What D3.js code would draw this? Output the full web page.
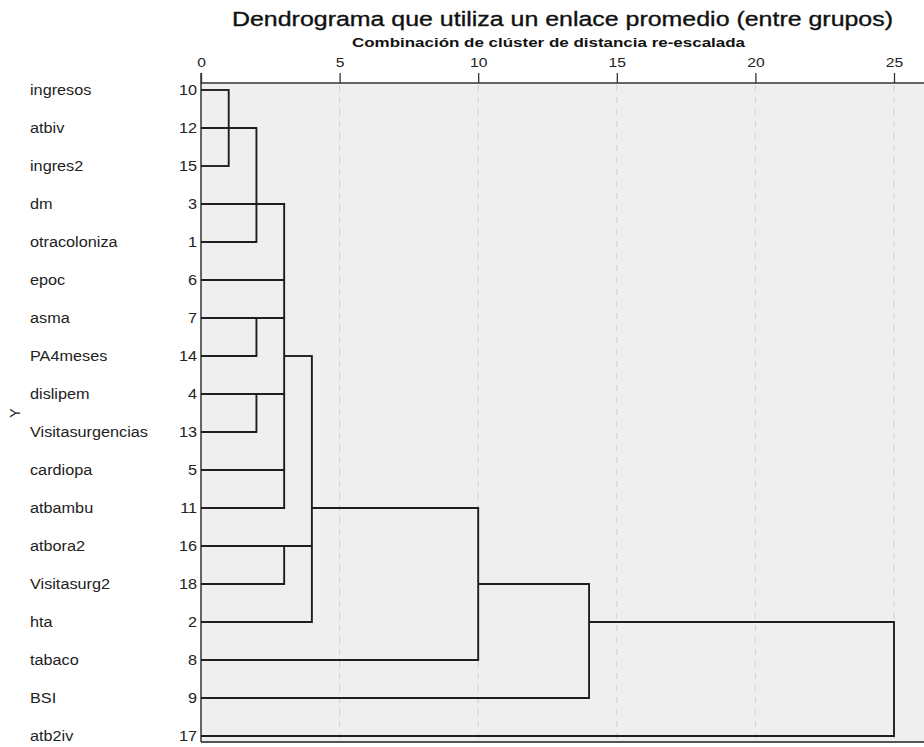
<!DOCTYPE html>
<html><head><meta charset="utf-8">
<script src="https://cdn.jsdelivr.net/npm/d3@7"></script>
<style>body{margin:0;background:#fff;} text{font-family:"Liberation Sans",Arial,sans-serif;}</style>
</head><body>
<svg id="c" width="924" height="747"></svg>
<script>
const title = "Dendrograma que utiliza un enlace promedio (entre grupos)";
const xTitle = "Combinación de clúster de distancia re-escalada";
const yTitle = "Y";
const labels = ["ingresos","atbiv","ingres2","dm","otracoloniza","epoc","asma","PA4meses","dislipem","Visitasurgencias","cardiopa","atbambu","atbora2","Visitasurg2","hta","tabaco","BSI","atb2iv"];
const caseIds = [10,12,15,3,1,6,7,14,4,13,5,11,16,18,2,8,9,17];
const xTicks = [0,5,10,15,20,25];
// horizontal segments as drawn: [rowIndex, fromDistance, toDistance]
const hSegments = [
  [0,0,1],[1,0,2],[2,0,1],[3,0,3],[4,0,2],[5,0,3],[6,0,3],[7,0,2],[7,3,4],
  [8,0,3],[9,0,2],[10,0,3],[11,0,3],[11,4,10],[12,0,4],[13,0,3],[13,10,14],
  [14,0,4],[14,14,25],[15,0,10],[16,0,14],[17,0,25]
];
// vertical segments as drawn: [distance, fromRow, toRow]
const vSegments = [
  [1,0,2],[2,1,4],[3,3,11],[2,6,7],[2,8,9],[4,7,14],[3,12,13],[10,11,15],[14,13,16],[25,14,17]
];

(function(){
const svg = d3.select("#c");
const x = d3.scaleLinear().domain([0,25]).range([201,894]);
const y = d3.scalePoint().domain(d3.range(labels.length)).range([90,736]);
const pTop = 83, pBottom = 742;
const SX = 1.16;

svg.append("rect").attr("x",201).attr("y",pTop).attr("width",924-201).attr("height",pBottom-pTop).attr("fill","#efefef");

svg.append("g").selectAll("line").data(xTicks.filter(d=>d>0)).join("line")
  .attr("x1",d=>x(d)).attr("x2",d=>x(d)).attr("y1",pTop+2).attr("y2",pBottom)
  .attr("stroke","#cfcfcf").attr("stroke-width",1).attr("stroke-dasharray","6,6");

const ax = svg.append("g").attr("transform",`translate(0,${pTop})`)
  .call(d3.axisTop(x).tickValues(xTicks).tickSize(10).tickSizeOuter(0).tickPadding(4));
ax.select(".domain").remove();
ax.selectAll(".tick line").attr("stroke","#333").attr("stroke-width",1.3);
ax.selectAll(".tick text").attr("font-size",13.5).attr("fill","#222").attr("y",null).attr("dy",null)
  .attr("font-family","Liberation Sans, Arial, sans-serif")
  .attr("transform",`translate(0,-16) scale(${SX},1)`);
svg.append("line").attr("x1",201).attr("x2",924).attr("y1",pTop).attr("y2",pTop).attr("stroke","#333").attr("stroke-width",1.5);
svg.append("line").attr("x1",201).attr("x2",924).attr("y1",pBottom).attr("y2",pBottom).attr("stroke","#555").attr("stroke-width",2);
svg.append("line").attr("x1",201).attr("x2",201).attr("y1",pTop-10).attr("y2",pBottom).attr("stroke","#333").attr("stroke-width",1.5);

svg.append("g").selectAll("text").data(labels).join("text")
  .attr("transform",(d,i)=>`translate(30,${y(i)+5}) scale(${SX},1)`)
  .attr("font-size",14).attr("fill","#222").text(d=>d);
svg.append("g").selectAll("text").data(caseIds).join("text")
  .attr("transform",(d,i)=>`translate(197,${y(i)+5}) scale(${SX},1)`)
  .attr("text-anchor","end").attr("font-size",14).attr("fill","#222").text(d=>d);

const g = svg.append("g").attr("stroke","#1e1e1e").attr("stroke-width",1.9).attr("fill","none");
g.selectAll("line.h").data(hSegments).join("line").attr("class","h")
  .attr("x1",d=>x(d[1])).attr("x2",d=>x(d[2])).attr("y1",d=>y(d[0])).attr("y2",d=>y(d[0]));
g.selectAll("line.v").data(vSegments).join("line").attr("class","v")
  .attr("x1",d=>x(d[0])).attr("x2",d=>x(d[0])).attr("y1",d=>y(d[1])).attr("y2",d=>y(d[2]))
  .attr("stroke-linecap","square");

svg.append("text").attr("x",232).attr("y",26).attr("textLength",661).attr("lengthAdjust","spacingAndGlyphs")
  .attr("font-size",20.5).attr("fill","#111").attr("stroke","#111").attr("stroke-width",0.35).text(title);
svg.append("text").attr("x",352).attr("y",47).attr("textLength",393).attr("lengthAdjust","spacingAndGlyphs")
  .attr("font-size",13).attr("font-weight","bold").attr("fill","#111").text(xTitle);
svg.append("text").attr("transform",`translate(20,${(y(0)+y(17))/2}) rotate(-90)`).attr("text-anchor","middle").attr("font-size",14).attr("fill","#222").text(yTitle);
})();
</script>
</body></html>
